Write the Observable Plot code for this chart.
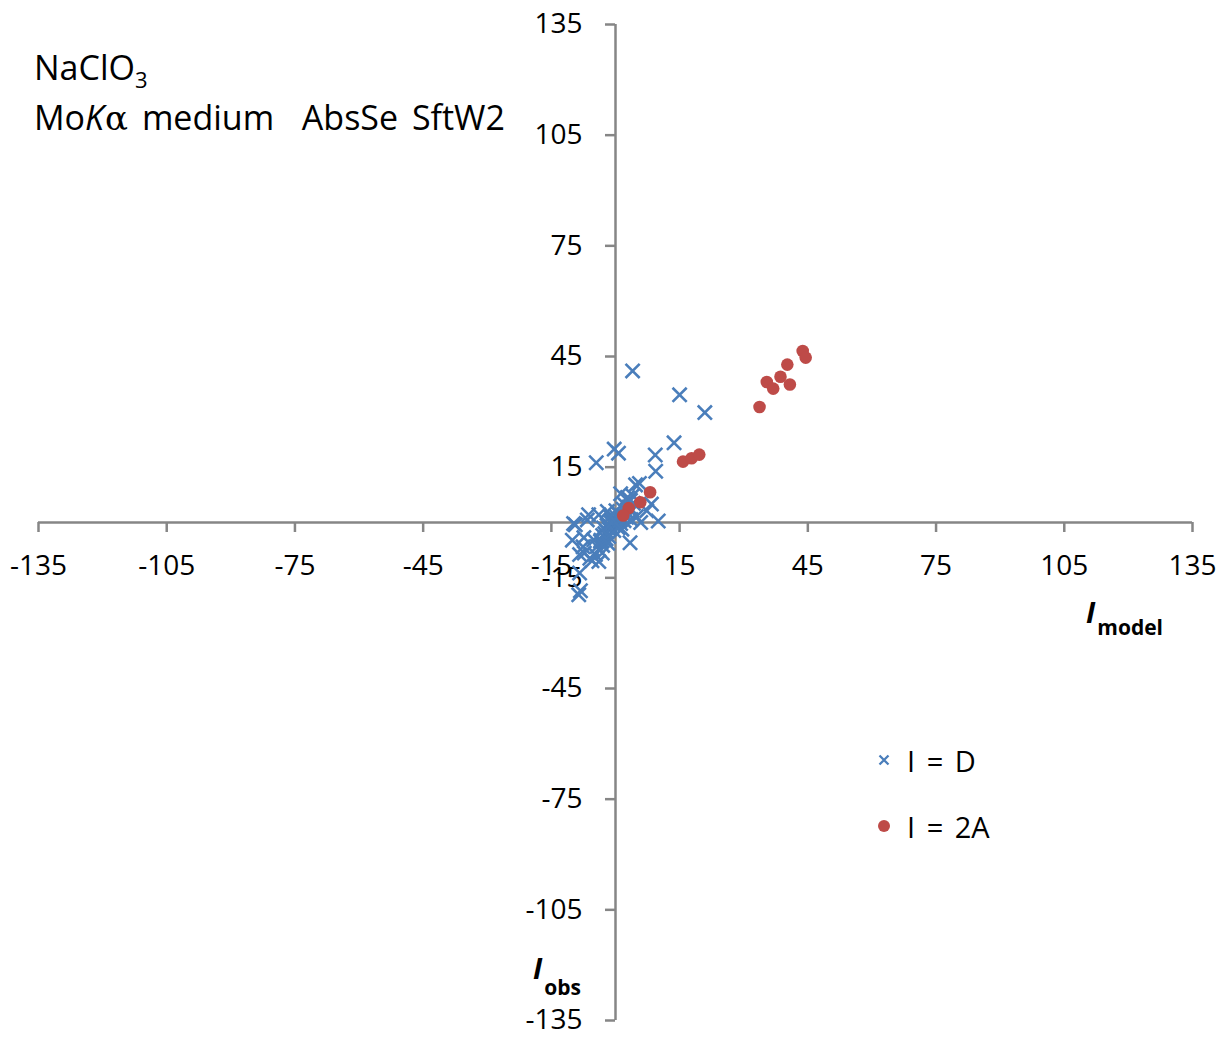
<!DOCTYPE html>
<html>
<head>
<meta charset="utf-8">
<script src="https://cdn.jsdelivr.net/npm/d3@7"></script>
<script src="https://cdn.jsdelivr.net/npm/@observablehq/plot@0.6"></script>
<style>
  html, body { margin: 0; padding: 0; background: #fff; }
  #chart { position: relative; width: 1225px; height: 1038px; }
  svg text { white-space: pre; }
</style>
</head>
<body>
<div id="chart"></div>
<script>
// ---- data ----
const xTicks = [-135, -105, -75, -45, -15, 15, 45, 75, 105, 135];
const yTicks = [-135, -105, -75, -45, -15, 15, 45, 75, 105, 135];

// I = D series (blue crosses): [I_model, I_obs]
const seriesD = [
  [4.0, 41.1], [15.0, 34.6], [20.9, 29.8], [13.7, 21.6], [-0.3, 19.9], [0.7, 18.8],
  [-4.5, 16.2], [9.3, 18.3], [9.4, 13.9], [5.6, 10.6], [4.7, 10.2], [10.0, 0.4],
  [5.9, 0.0], [8.4, 5.0], [7.3, 3.2], [4.9, 1.6], [3.4, -5.5], [-8.6, -19.6],
  [-8.2, -18.5], [-8.4, -13.7], [-9.8, -0.3], [-9.4, -0.6], [-6.6, 0.7], [-10.1, -4.8],
  [-7.6, -6.6], [-7.3, -8.3], [-8.4, -8.7], [-6.0, -9.7], [-4.7, -8.7], [-3.9, -10.6],
  [-5.5, -10.4], [-3.1, -8.3], [-4.3, -6.5], [-5.1, -4.7], [-7.4, -4.1], [-3.5, -5.1],
  [-6.3, 2.1], [-3.9, 2.1], [-1.9, 3.0], [2.8, 6.8], [4.0, 7.3], [1.2, 7.8],
  [0, 0], [0.5, 0.3], [-0.5, -0.6], [1, 1], [-1, -1.2], [1.5, 1.2], [-1.5, -1.8],
  [2, 2], [-2, -2.5], [2.5, 3], [-2.5, -3], [3, 2.5], [-3, -3.5], [0.3, -0.8],
  [-0.8, 0.4], [1.2, -0.3], [-1.2, 0.2], [2, 0.5], [-2, -0.8], [0.8, 2.2],
  [-0.4, -2.2], [1.8, 3.6], [-2.8, -1.5], [3.2, 4.2], [-3.4, -4.8], [0.2, 1.5],
  [-1.6, -3.8], [2.6, 1.4], [-0.9, -0.1], [1.1, 0.6], [3.8, 3.2], [-2.2, -4.4],
  [0.6, -1.4], [4.2, 5.2], [2.2, 4.8], [-1.2, 1.6], [3.5, 6.0], [0.1, 3.2],
  [-3.0, -6.2], [1.5, -1.8], [3.6, 0.8], [-1.8, -5.6]
];

// I = 2A series (red dots): [I_model, I_obs]
const series2A = [
  [43.8, 46.5], [44.5, 44.7], [40.2, 42.8], [38.6, 39.5], [35.4, 38.1], [36.9, 36.3],
  [40.8, 37.4], [33.7, 31.3], [15.8, 16.5], [17.8, 17.4], [19.6, 18.4], [8.1, 8.2],
  [5.8, 5.5], [3.1, 3.9], [1.8, 1.9]
];

// ---- layout ----
const W = 1225, H = 1038;
const mL = 38, mR = 33, mT = 24, mB = 18;
const span = 270;
const tickPx = 10;
const tickLenY = tickPx * span / (H - mT - mB); // x-axis tick length in y units
const tickLenX = tickPx * span / (W - mL - mR); // y-axis tick length in x units
const axisColor = "#868686";
const blue = "#4A7EBB";
const red = "#BE4B48";
const font = "'Open Sans', sans-serif";

const chart = Plot.plot({
  width: W,
  height: H,
  marginLeft: mL,
  marginRight: mR,
  marginTop: mT,
  marginBottom: mB,
  x: { domain: [-135, 135], axis: null },
  y: { domain: [-135, 135], axis: null },
  style: { fontFamily: font, background: "white", color: "black" },
  marks: [
    Plot.ruleY([0], { stroke: axisColor, strokeWidth: 2.5 }),
    Plot.ruleX([0], { stroke: axisColor, strokeWidth: 2.5 }),
    Plot.ruleX(xTicks, { x: d => d, y1: 0, y2: -tickLenY, stroke: axisColor, strokeWidth: 2.5 }),
    Plot.ruleY(yTicks, { y: d => d, x1: 0, x2: -tickLenX, stroke: axisColor, strokeWidth: 2.5 }),
    Plot.text(xTicks, { x: d => d, y: 0, text: d => String(d), dy: 44, fontSize: 28, fill: "black" }),
    Plot.text(yTicks, { x: 0, y: d => d, text: d => String(d), dx: -33, textAnchor: "end", fontSize: 28, fill: "black" }),
    Plot.dot(seriesD, { x: d => d[0], y: d => d[1], symbol: "times", r: 6.5, stroke: blue, strokeWidth: 2.6 }),
    Plot.dot(series2A, { x: d => d[0], y: d => d[1], symbol: "circle", r: 6.3, fill: red, stroke: "none" })
  ]
});

document.getElementById("chart").appendChild(chart);

// ---- rich text overlays (subscripts, italics) and legend ----
const svg = d3.select(chart);
const g = svg.append("g").attr("font-family", font).attr("fill", "black").attr("text-anchor", "start");

// Title
const t1 = g.append("text").attr("x", 34).attr("y", 80).attr("font-size", 34);
t1.append("tspan").text("NaClO");
t1.append("tspan").attr("font-size", 22).attr("dy", 8).text("3");

const t2 = g.append("text").attr("x", 34).attr("y", 130).attr("font-size", 34).attr("word-spacing", 5);
t2.append("tspan").text("Mo");
t2.append("tspan").attr("font-style", "italic").text("K");
t2.append("tspan").attr("font-family", "'DejaVu Serif', serif").attr("font-size", 34).attr("dx", 1).text("α");
t2.append("tspan").text(" medium  AbsSe SftW2");

// Axis titles
const ax = g.append("text").attr("x", 1086).attr("y", 623).attr("font-weight", "bold");
ax.append("tspan").attr("font-style", "italic").attr("font-size", 29).text("I");
ax.append("tspan").attr("font-size", 21).attr("dy", 12).attr("dx", 2).text("model");

const ay = g.append("text").attr("x", 533).attr("y", 979).attr("font-weight", "bold");
ay.append("tspan").attr("font-style", "italic").attr("font-size", 29).text("I");
ay.append("tspan").attr("font-size", 21).attr("dy", 16).attr("dx", 2).text("obs");

// Legend
const legendItems = [
  { label: "I = D", y: 760, sym: "times" },
  { label: "I = 2A", y: 826, sym: "circle" }
];
legendItems.forEach(it => {
  if (it.sym === "times") {
    svg.append("path")
      .attr("transform", `translate(884,${it.y})`)
      .attr("d", "M-4.5,-4.5L4.5,4.5M-4.5,4.5L4.5,-4.5")
      .attr("stroke", blue).attr("stroke-width", 2.3).attr("fill", "none");
  } else {
    svg.append("circle").attr("cx", 884).attr("cy", it.y)
      .attr("r", 6).attr("fill", red);
  }
  g.append("text").attr("x", 907).attr("y", it.y + 12)
    .attr("font-size", 29).attr("word-spacing", 4).text(it.label);
});
</script>
</body>
</html>
